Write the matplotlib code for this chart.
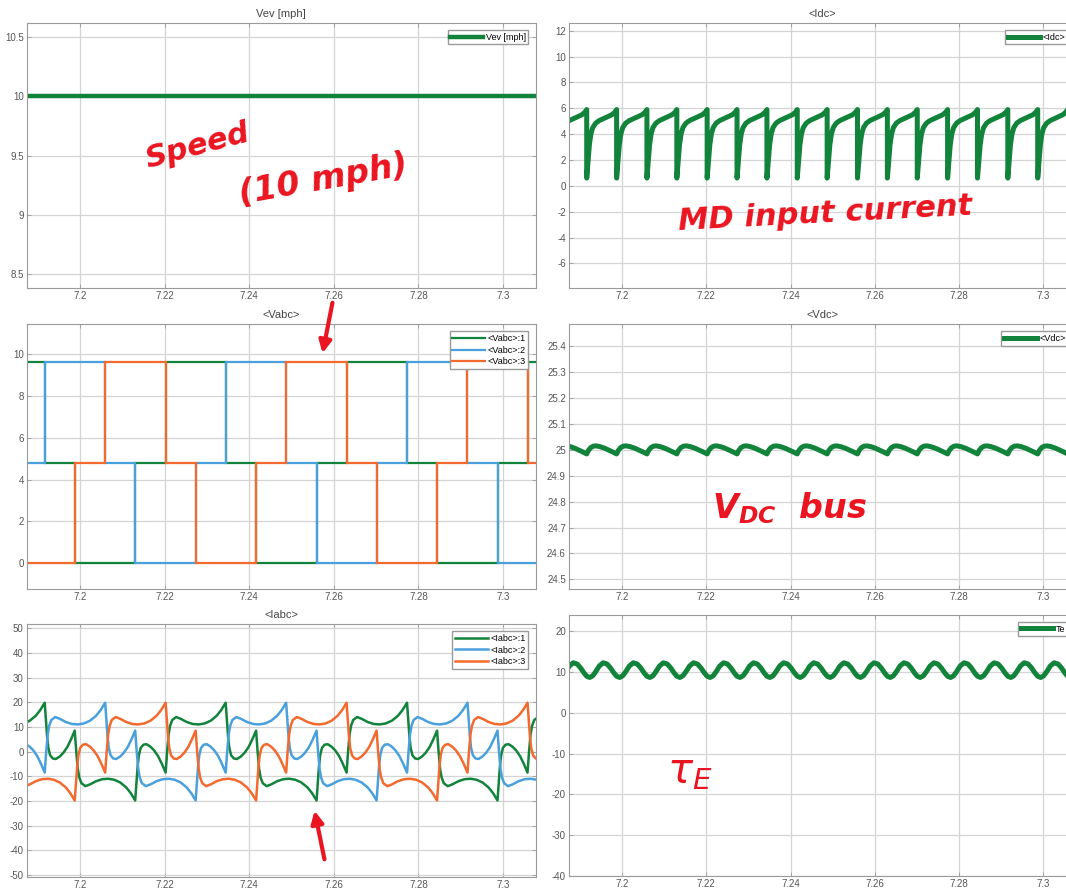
import numpy as np
import matplotlib
matplotlib.use('Agg')
import matplotlib.pyplot as plt

plt.rcParams['font.family'] = ['Liberation Sans', 'DejaVu Sans']

# --- data ---
# commutation instants [s] (Vabc step edges); a couple of extra ones outside the view
comm = [7.1702, 7.1773, 7.1845, 7.1916, 7.1987, 7.2059, 7.2130, 7.2202, 7.2273,
        7.2344, 7.2416, 7.2487, 7.2559, 7.2630, 7.2701, 7.2773, 7.2844, 7.2916,
        7.2987, 7.3058, 7.3130, 7.3201, 7.3273]
first_sector = 4  # comm[0] starts sector E (A=0 ... F=5)

# six-step phase voltages per sector A..F
vabc_1 = [9.63, 4.81, 0.0, 0.0, 4.81, 9.63]
vabc_2 = [4.81, 9.63, 9.63, 4.81, 0.0, 0.0]
vabc_3 = [0.0, 0.0, 4.81, 9.63, 9.63, 4.81]

# speed
vev_t = [7.18, 7.32]
vev = [10, 10]

# one Idc tooth per sector (position inside sector, value)
idc_frac = [0.0, 0.02, 0.05, 0.09, 0.14, 0.2, 0.3, 0.42, 0.56, 0.7, 0.84, 0.94, 1.0]
idc_val = [0.6, 1.2, 2.2, 3.2, 4.0, 4.5, 4.85, 5.05, 5.2, 5.35, 5.5, 5.7, 5.9]

# one Vdc ripple per sector
vdc_frac = [0.0, 0.06, 0.13, 0.22, 0.32, 0.45, 0.6, 0.75, 0.88, 1.0]
vdc_val = [24.984, 24.998, 25.008, 25.014, 25.015, 25.012, 25.006, 24.998, 24.991, 24.984]

# one torque ripple per sector
te_frac = [0.0, 0.1, 0.2, 0.3, 0.42, 0.55, 0.68, 0.8, 0.9, 1.0]
te_val = [9.0, 8.7, 9.1, 10.1, 11.5, 12.3, 12.0, 11.0, 9.9, 9.0]

# phase current over half an electrical period (3 sectors):
# floating sector after conduction, then two conducting sectors
iabc_s = [0, 0.04, 0.08, 0.12, 0.18, 0.27, 0.37, 0.5, 0.62, 0.75, 0.87, 1.0,
          1.05, 1.1, 1.15, 1.22, 1.35, 1.5, 1.7, 1.9, 2.1, 2.3, 2.5, 2.7, 2.85, 3.0]
iabc_p = [19.8, 13, 6, 1.5, -1.5, -2.8, -3.0, -2.0, -0.5, 1.8, 4.8, 8.5,
          0, -7, -10.5, -12.8, -14, -13.3, -12, -11.2, -11.0, -11.4, -12.5, -14.5, -16.8, -19.8]
# (first sector index, sign) of the half-period for each phase
iabc_1_start = (0, -1)
iabc_2_start = (2, -1)
iabc_3_start = (1, 1)

xlim = (7.1873, 7.3077)

green = '#12833a'
blue = '#4aa0dc'
orange = '#f4692e'
red = '#ea1520'
grey = '#555555'

idx = np.arange(len(comm))


def per_sector(frac, vals):
    t, y = [], []
    for i in range(len(comm) - 1):
        t.extend(np.interp(i + np.array(frac), idx, comm))
        y.extend(vals)
    return t, y


def phase_current(start):
    k0, sg = start
    t, y = [], []
    while k0 + 3 <= idx[-1]:
        t.extend(np.interp(k0 + np.array(iabc_s), idx, comm))
        y.extend(sg * np.array(iabc_p))
        k0 += 3
        sg = -sg
    return t, y


def style(ax, title, yticks, ylim):
    ax.set_xlim(xlim)
    ax.set_ylim(ylim)
    ax.set_xticks([7.2, 7.22, 7.24, 7.26, 7.28, 7.3])
    ax.set_xticklabels(['7.2', '7.22', '7.24', '7.26', '7.28', '7.3'])
    ax.set_yticks(yticks)
    ax.set_yticklabels([('%g' % v) for v in yticks])
    ax.grid(True, color='#d4d4d4', lw=0.9)
    ax.set_axisbelow(True)
    ax.tick_params(direction='in', length=3, width=0.6, colors='#9a9a9a',
                   labelcolor=grey, labelsize=7, pad=2,
                   top=True, right=True)
    for s in ax.spines.values():
        s.set_color('#9a9a9a')
        s.set_linewidth(0.8)
    if title:
        ax.set_title(title, fontsize=8, color='#444444', pad=4)


def legend(ax):
    ax.legend(loc='upper right', fontsize=6.5, fancybox=False, framealpha=1,
              edgecolor='#9a9a9a', handlelength=3.6, handletextpad=0.3,
              borderpad=0.3, labelspacing=0.3, borderaxespad=0.8)


fig = plt.figure(figsize=(10.66, 8.88), dpi=100)

ax1 = fig.add_axes([0.0249, 0.6753, 0.4775, 0.2991])
ax2 = fig.add_axes([0.5334, 0.6753, 0.4756, 0.2991])
ax3 = fig.add_axes([0.0249, 0.3367, 0.4775, 0.2984])
ax4 = fig.add_axes([0.5334, 0.3367, 0.4756, 0.2984])
ax5 = fig.add_axes([0.0249, 0.0127, 0.4775, 0.2846])
ax6 = fig.add_axes([0.5334, 0.0135, 0.4756, 0.2943])

# Vev
ax1.plot(vev_t, vev, color=green, lw=3.2, label='Vev [mph]')
style(ax1, 'Vev [mph]', [8.5, 9, 9.5, 10, 10.5], (8.382, 10.618))
legend(ax1)

# Idc
t, y = per_sector(idc_frac, idc_val)
ax2.plot(t, y, color=green, lw=3.6, solid_joinstyle='round', label='<Idc>')
style(ax2, '<Idc>', list(range(-6, 13, 2)), (-7.93, 12.62))
legend(ax2)

# Vabc
sec = [(i + first_sector) % 6 for i in range(len(comm) - 1)]
ax3.stairs([vabc_1[k] for k in sec], comm, baseline=None, color=green, lw=1.6, label='<Vabc>:1')
ax3.stairs([vabc_2[k] for k in sec], comm, baseline=None, color=blue, lw=1.6, label='<Vabc>:2')
ax3.stairs([vabc_3[k] for k in sec], comm, baseline=None, color=orange, lw=1.6, label='<Vabc>:3')
style(ax3, '<Vabc>', [0, 2, 4, 6, 8, 10], (-1.23, 11.43))
legend(ax3)

# Vdc
t, y = per_sector(vdc_frac, vdc_val)
ax4.plot(t, y, color=green, lw=3.6, label='<Vdc>')
style(ax4, '<Vdc>', [24.5, 24.6, 24.7, 24.8, 24.9, 25, 25.1, 25.2, 25.3, 25.4], (24.463, 25.485))
legend(ax4)

# Iabc
for start, c, lab in [(iabc_1_start, green, '<Iabc>:1'),
                      (iabc_2_start, blue, '<Iabc>:2'),
                      (iabc_3_start, orange, '<Iabc>:3')]:
    t, y = phase_current(start)
    ax5.plot(t, y, color=c, lw=1.8, label=lab)
style(ax5, '<Iabc>', list(range(-50, 51, 10)), (-50.7, 51.7))
legend(ax5)

# Te
t, y = per_sector(te_frac, te_val)
ax6.plot(t, y, color=green, lw=3.6, label='Te')
style(ax6, None, [-40, -30, -20, -10, 0, 10, 20], (-40, 24.1))
legend(ax6)

# handwritten notes
W, H = 1066.0, 888.0
hw = dict(color=red, fontweight='bold', fontstyle='italic', family='DejaVu Sans')
fig.text(197 / W, 1 - 146 / H, 'Speed', fontsize=22, rotation=15, ha='center', va='center', **hw)
fig.text(323 / W, 1 - 180 / H, '(10 mph)', fontsize=24, rotation=10, ha='center', va='center', **hw)
fig.text(825 / W, 1 - 214 / H, 'MD input current', fontsize=22, rotation=3, ha='center', va='center', **hw)
fig.text(790 / W, 1 - 508 / H, r'V$_\mathregular{DC}$  bus', fontsize=24, ha='center', va='center', **hw)
fig.text(690 / W, 1 - 772 / H, r'$\tau_E$', fontsize=30, ha='center', va='center', color=red)

arrow = dict(arrowstyle='-|>', color=red, lw=3, mutation_scale=18)
fig.add_artist(plt.Annotation('', xy=(322 / W, 1 - 356 / H), xytext=(333 / W, 1 - 300 / H),
                              xycoords='figure fraction', arrowprops=arrow))
fig.add_artist(plt.Annotation('', xy=(314 / W, 1 - 808 / H), xytext=(325 / W, 1 - 862 / H),
                              xycoords='figure fraction', arrowprops=arrow))

fig.savefig('out.png', dpi=100)
